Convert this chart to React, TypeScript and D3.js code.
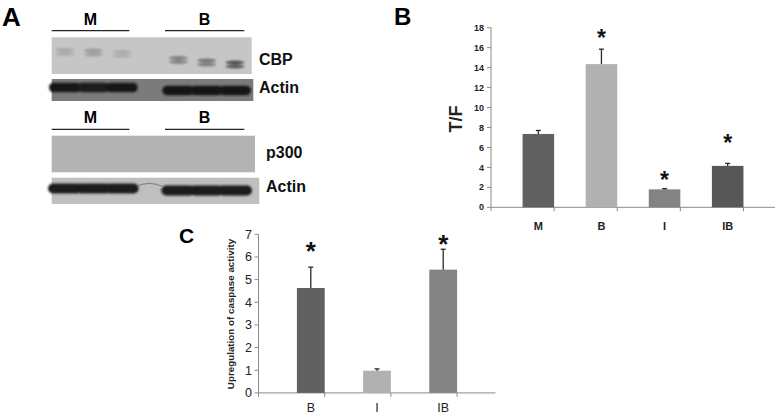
import React from "react";
import * as d3 from "d3";

// ---------- Panel A (western blots) ----------
const blotGroups = ["M", "B"];
const laneSlots = [0, 1, 2, 4, 5, 6];
const cbpIntensity = [0.18, 0.26, 0.16, 0.42, 0.48, 0.7];
const actin1Intensity = [0.95, 0.93, 0.95, 1, 1, 1];
const p300Intensity = [0, 0, 0, 0, 0, 0];
const actin2Intensity = [0.95, 0.95, 0.95, 0.97, 0.97, 0.97];

// ---------- Panel B ----------
const bCategories = ["M", "B", "I", "IB"];
const bValues = [7.35, 14.35, 1.8, 4.15];
const bErrors = [0.35, 1.5, 0.07, 0.25];
const bStars: (number | null)[] = [null, 17.55, 3.25, 6.95];
const bTicks = [0, 2, 4, 6, 8, 10, 12, 14, 16, 18];
const bColors = ["#616161", "#b1b1b1", "#838383", "#575757"];

// ---------- Panel C ----------
const cCategories = ["B", "I", "IB"];
const cValues = [4.63, 0.98, 5.44];
const cErrors = [0.92, 0.08, 0.9];
const cStars: (number | null)[] = [6.52, null, 6.83];
const cTicks = [0, 1, 2, 3, 4, 5, 6, 7];
const cColors = ["#616161", "#b1b1b1", "#838383"];

const FONT = "'Liberation Sans', Arial, sans-serif";

function Blot({ x0, x1, y0, y1, bg, band, intens, bandY, rx, ry, lane, double, blur }: any) {
  const mix = d3.interpolateRgb(bg, band);
  return (
    <g>
      <rect x={x0} y={y0} width={x1 - x0} height={y1 - y0} fill={bg} />
      <g filter={`url(#${blur || "blur"})`}>
        {intens.map((v: number, i: number) => {
          if (v <= 0) return null;
          const cx = lane(laneSlots[i]);
          const cy = bandY(i);
          if (double) {
            return (
              <g key={i}>
                <ellipse cx={cx} cy={cy - 2} rx={rx} ry={ry} fill={mix(v)} />
                <ellipse cx={cx} cy={cy + 2} rx={rx} ry={ry} fill={mix(v * 0.9)} />
              </g>
            );
          }
          return (
            <rect
              key={i}
              x={cx - rx}
              y={cy - ry}
              width={rx * 2}
              height={ry * 2}
              rx={ry}
              ry={ry}
              fill={mix(v)}
            />
          );
        })}
      </g>
    </g>
  );
}

function PanelA() {
  const lane = d3.scaleLinear().domain([0, 6]).range([65, 235]);
  const groupLines = [
    [51.7, 129.3],
    [165, 244.3],
  ];
  const header = (y: number, lineY: number) =>
    blotGroups.map((g, i) => (
      <g key={g + y}>
        <text
          x={(groupLines[i][0] + groupLines[i][1]) / 2}
          y={y}
          textAnchor="middle"
          fontWeight="bold"
          fontSize={16}
          fontFamily={FONT}
        >
          {g}
        </text>
        <line x1={groupLines[i][0]} x2={groupLines[i][1]} y1={lineY} y2={lineY} stroke="#222" strokeWidth={1.2} />
      </g>
    ));
  const label = (t: string, x: number, y: number) => (
    <text x={x} y={y} fontWeight="bold" fontSize={16} fontFamily={FONT} fill="#111">
      {t}
    </text>
  );
  return (
    <g>
      <text x={2} y={26} fontWeight="bold" fontSize={26} fontFamily={FONT}>
        A
      </text>
      {header(25, 30.7)}
      <Blot
        x0={51.7}
        x1={251.7}
        y0={37.3}
        y1={74}
        bg="#c6c6c6"
        band="#1e1e1e"
        intens={cbpIntensity}
        bandY={(i: number) => [52, 52.5, 54, 60, 62.5, 64.5][i]}
        rx={9.5}
        ry={1.9}
        lane={lane}
        double
        blur="blur2"
      />
      {label("CBP", 259, 65)}
      <Blot
        x0={51.7}
        x1={253.3}
        y0={79}
        y1={101}
        bg="#7b7b7b"
        band="#141414"
        intens={actin1Intensity}
        bandY={(i: number) => (i < 3 ? 87.5 : 90.5)}
        rx={16}
        ry={4.8}
        lane={lane}
      />
      {label("Actin", 259, 93)}
      {header(123, 129.3)}
      <Blot
        x0={51.7}
        x1={255}
        y0={135.7}
        y1={172.3}
        bg="#b3b3b3"
        band="#1e1e1e"
        intens={p300Intensity}
        bandY={() => 154}
        rx={10}
        ry={3}
        lane={lane}
      />
      {label("p300", 266, 157.5)}
      <Blot
        x0={51.7}
        x1={259.3}
        y0={177.7}
        y1={204}
        bg="#bfbfbf"
        band="#161616"
        intens={actin2Intensity}
        bandY={(i: number) => (i < 3 ? 188.5 : 190.5)}
        rx={17}
        ry={5}
        lane={lane}
      />
      <path d="M137,186 Q149,181 162,186" fill="none" stroke="#6a6a6a" strokeWidth={0.8} filter="url(#blur3)" />
      {label("Actin", 266, 192)}
    </g>
  );
}

function BarPanel({
  categories,
  values,
  errors,
  stars,
  ticks,
  colors,
  xRange,
  yRange,
  yMax,
  padding,
  tickFont,
  tickBold,
  tickRight,
  catFont,
  catBold,
  catY,
  starFont,
  capW,
}: any) {
  const x = d3.scaleBand<string>().domain(categories).range(xRange).padding(padding);
  const y = d3.scaleLinear().domain([0, yMax]).range(yRange);
  const axisX = xRange[0];
  const step = x.step();
  const boundaries = d3.range(categories.length + 1).map((i) => xRange[0] + i * step);
  return (
    <g>
      <line x1={axisX} x2={axisX} y1={y(0)} y2={y(yMax)} stroke="#8a8a8a" strokeWidth={1} />
      <line x1={axisX} x2={xRange[1]} y1={y(0)} y2={y(0)} stroke="#8a8a8a" strokeWidth={1} />
      {ticks.map((t: number) => (
        <g key={t}>
          <line x1={axisX - 4} x2={axisX} y1={y(t)} y2={y(t)} stroke="#8a8a8a" />
          <text
            x={tickRight}
            y={y(t)}
            dy="0.35em"
            textAnchor="end"
            fontSize={tickFont}
            fontWeight={tickBold ? "bold" : "normal"}
            fontFamily={FONT}
            fill="#222"
          >
            {t}
          </text>
        </g>
      ))}
      {boundaries.map((b: number, i: number) => (
        <line key={i} x1={b} x2={b} y1={y(0)} y2={y(0) + 4} stroke="#8a8a8a" />
      ))}
      {categories.map((c: string, i: number) => (
        <g key={c}>
          <rect x={x(c)} y={y(values[i])} width={x.bandwidth()} height={y(0) - y(values[i])} fill={colors[i]} />
          <line
            x1={x(c)! + x.bandwidth() / 2}
            x2={x(c)! + x.bandwidth() / 2}
            y1={y(values[i])}
            y2={y(values[i] + errors[i])}
            stroke="#2a2a2a"
            strokeWidth={1.3}
          />
          <line
            x1={x(c)! + x.bandwidth() / 2 - capW}
            x2={x(c)! + x.bandwidth() / 2 + capW}
            y1={y(values[i] + errors[i])}
            y2={y(values[i] + errors[i])}
            stroke="#2a2a2a"
            strokeWidth={1.3}
          />
          {stars[i] != null && (
            <text
              x={x(c)! + x.bandwidth() / 2}
              y={y(stars[i]) + starFont * 0.58}
              textAnchor="middle"
              fontSize={starFont}
              fontWeight="bold"
              fontFamily={FONT}
              fill="#111"
            >
              *
            </text>
          )}
          <text
            x={x(c)! + x.bandwidth() / 2}
            y={catY}
            textAnchor="middle"
            fontSize={catFont}
            fontWeight={catBold ? "bold" : "normal"}
            fontFamily={FONT}
            fill="#222"
          >
            {c}
          </text>
        </g>
      ))}
    </g>
  );
}

export default function App() {
  return (
    <svg
      width={778}
      height={419}
      viewBox="0 0 778 419"
      style={{ position: "absolute", left: 0, top: 0, background: "#fff" }}
    >
      <defs>
        <filter id="blur" x="-20%" y="-50%" width="140%" height="200%">
          <feGaussianBlur stdDeviation="1.2" />
        </filter>
        <filter id="blur2" x="-20%" y="-50%" width="140%" height="200%">
          <feGaussianBlur stdDeviation="1.0 1.3" />
        </filter>
        <filter id="blur3" x="-20%" y="-100%" width="140%" height="300%">
          <feGaussianBlur stdDeviation="0.5" />
        </filter>
      </defs>
      <rect width={778} height={419} fill="#fff" />
      <PanelA />

      {/* Panel B */}
      <text x={394} y={25} fontWeight="bold" fontSize={24} fontFamily={FONT}>
        B
      </text>
      <text
        transform="translate(462,119) rotate(-90)"
        textAnchor="middle"
        fontWeight="bold"
        fontSize={18}
        fontFamily={FONT}
        fill="#222"
      >
        T/F
      </text>
      <BarPanel
        categories={bCategories}
        values={bValues}
        errors={bErrors}
        stars={bStars}
        ticks={bTicks}
        colors={bColors}
        xRange={[491, 775]}
        yRange={[207.3, 27.7]}
        yMax={18}
        padding={0.5}
        tickFont={9}
        tickBold
        tickRight={484}
        catFont={11}
        catBold
        catY={229.5}
        starFont={23}
        capW={2.5}
      />

      {/* Panel C */}
      <text x={179} y={243} fontWeight="bold" fontSize={21} fontFamily={FONT}>
        C
      </text>
      <text
        transform="translate(233.5,314) rotate(-90)"
        textAnchor="middle"
        fontWeight="bold"
        fontSize={9.8}
        fontFamily={FONT}
        fill="#222"
      >
        Upregulation of caspase activity
      </text>
      <BarPanel
        categories={cCategories}
        values={cValues}
        errors={cErrors}
        stars={cStars}
        ticks={cTicks}
        colors={cColors}
        xRange={[258.5, 495.5]}
        yRange={[392.9, 234.3]}
        yMax={7}
        padding={0.58}
        tickFont={12.5}
        tickBold={false}
        tickRight={252}
        catFont={12.5}
        catBold={false}
        catY={411.7}
        starFont={26}
        capW={2.5}
      />
    </svg>
  );
}
